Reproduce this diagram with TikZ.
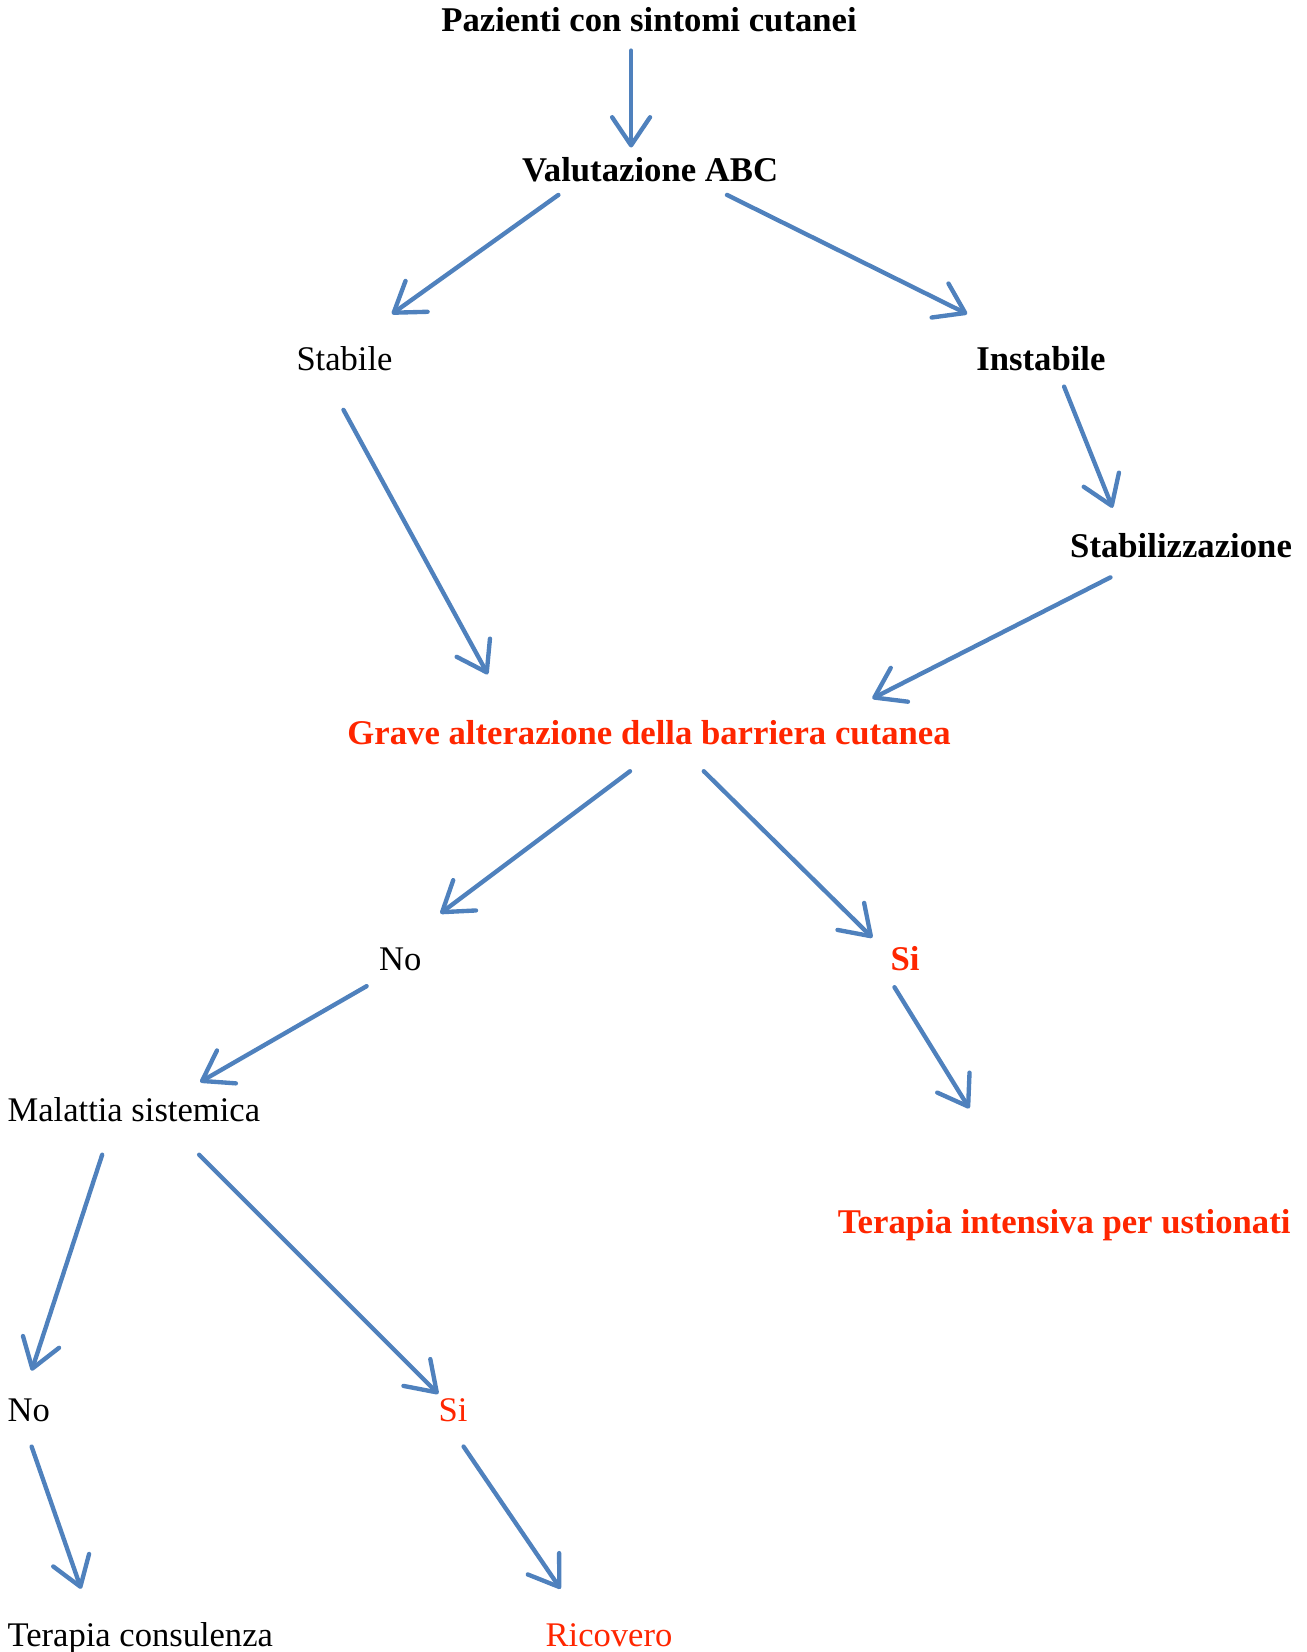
\documentclass[tikz,border=0pt]{standalone}
\usepackage{fontspec}
\setmainfont{Liberation Serif}
\usetikzlibrary{arrows.meta}
\definecolor{arrblue}{RGB}{79,129,189}
\definecolor{txtred}{RGB}{255,38,0}
\begin{document}
\begin{tikzpicture}[x=0.75pt,y=-0.75pt,
  lbl/.style={inner sep=0pt, anchor=base, font=\fontsize{24.6}{28}\selectfont},
  blbl/.style={inner sep=0pt, anchor=base, font=\fontsize{24.7}{28}\selectfont\bfseries},
  conn/.style={draw=arrblue, line width=3.1pt, line cap=round,
    -{Straight Barb[length=20pt,width=27pt,line cap=round,line join=round]}}]
\useasboundingbox (0,0) rectangle (1240,1568);
% nodes
\node[blbl] (paz) at (616,30) {Pazienti con sintomi cutanei};
\node[blbl] (abc) at (617,172) {Valutazione ABC};
\node[lbl] (stab) at (327,352) {Stabile};
\node[blbl] (inst) at (988,352) {Instabile};
\node[blbl] (stz) at (1121,529) {Stabilizzazione};
\node[blbl, text=txtred] (grave) at (616,707) {Grave alterazione della barriera cutanea};
\node[lbl] (no1) at (380,921) {No};
\node[blbl, text=txtred] (si1) at (859,921) {Si};
\node[lbl, anchor=base west] (mal) at (7,1064) {Malattia sistemica};
\node[blbl, text=txtred] (ter) at (1010,1171) {Terapia intensiva per ustionati};
\node[lbl, anchor=base west] (no2) at (7,1349) {No};
\node[lbl, text=txtred] (si2) at (430,1349) {Si};
\node[lbl, anchor=base west] (cons) at (7,1563) {Terapia consulenza};
\node[lbl, text=txtred] (ric) at (578,1563) {Ricovero};
% connector end points
\coordinate (a1s) at (599,48);   \coordinate (a1e) at (599,140);
\coordinate (a2s) at (530,185);  \coordinate (a2e) at (372,298);
\coordinate (a3s) at (690,185);  \coordinate (a3e) at (918,298);
\coordinate (a4s) at (1010,367); \coordinate (a4e) at (1056,482);
\coordinate (a5s) at (326,389);  \coordinate (a5e) at (463,640);
\coordinate (a6s) at (1054,548); \coordinate (a6e) at (828,663);
\coordinate (a7s) at (598,732);  \coordinate (a7e) at (418,867);
\coordinate (a8s) at (668,732);  \coordinate (a8e) at (828,890);
\coordinate (a9s) at (348,936);  \coordinate (a9e) at (190,1027);
\coordinate (a10s) at (849,937); \coordinate (a10e) at (920,1052);
\coordinate (a11s) at (97,1096); \coordinate (a11e) at (30,1301);
\coordinate (a12s) at (189,1096);\coordinate (a12e) at (416,1323);
\coordinate (a13s) at (30,1373); \coordinate (a13e) at (77,1508);
\coordinate (a14s) at (440,1373);\coordinate (a14e) at (532,1508);
% connectors
\foreach \i in {1,...,14} {\draw[conn] (a\i s) -- (a\i e);}
\end{tikzpicture}
\end{document}
